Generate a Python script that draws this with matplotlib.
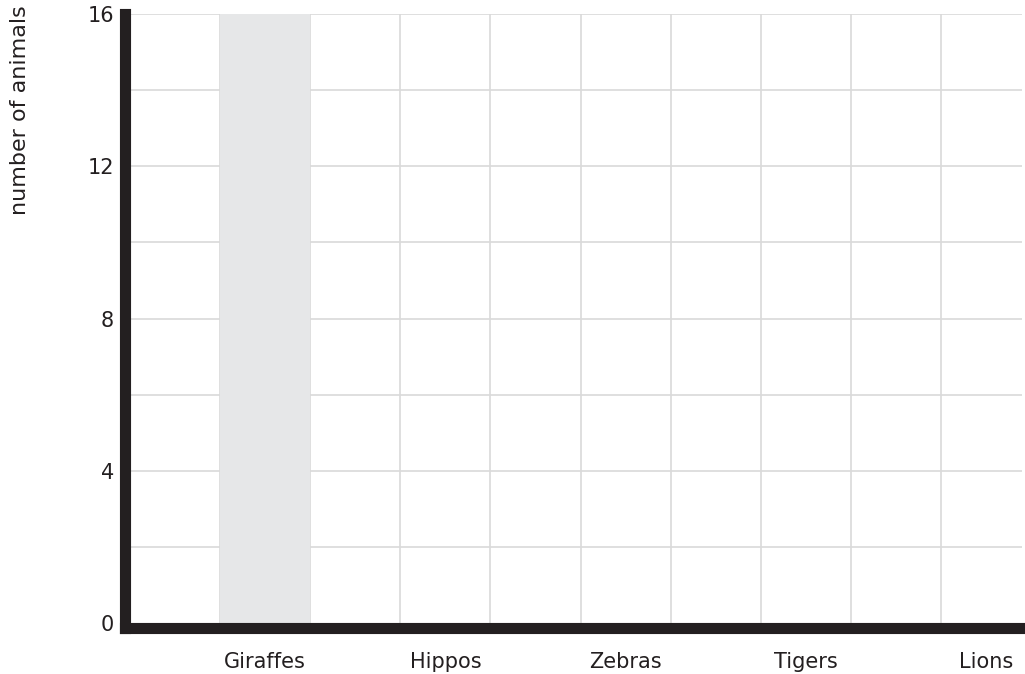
import matplotlib
matplotlib.use('Agg')
import matplotlib.pyplot as plt
import numpy as np

# Datos del grafico
categorias = ['Giraffes', 'Hippos', 'Zebras', 'Tigers', 'Lions']
valores = [16, 0, 0, 0, 0]
yticks = [0, 4, 8, 12, 16]

W, H = 1025, 674
fig = plt.figure(figsize=(W / 100, H / 100), dpi=100)
# ejes en pixeles: borde izquierdo en el centro del eje grueso
left_px, right_px, bottom_px, top_px = 125, 1022, 628, 14
ax = fig.add_axes([left_px / W, 1 - bottom_px / H,
                   (right_px - left_px) / W, (bottom_px - top_px) / H])

x = np.arange(len(categorias))
ax.bar(x, valores, width=0.5, color='#e6e7e8', zorder=1)

# rejilla
for gx in np.arange(-0.25, 4.3, 0.5):
    ax.axvline(gx, color='#d9d9d9', lw=1.2, zorder=0.5)
for gy in range(2, 17, 2):
    ax.axhline(gy, color='#d9d9d9', lw=1.2, zorder=0.5)

# 1 categoria = 180 px
ax.set_xlim(-0.75 - 5 / 180, 4.2)
ax.set_ylim(-5 * 16 / 609, 16)

ax.set_xticks(x)
ax.set_xticklabels(categorias, fontsize=15, color='#231f20')
ax.set_yticks(yticks)
ax.set_yticklabels([str(v) for v in yticks], fontsize=15, color='#231f20')
ax.tick_params(axis='both', length=0)
ax.tick_params(axis='x', pad=17)
ax.tick_params(axis='y', pad=8)

for s in ['top', 'right']:
    ax.spines[s].set_visible(False)
for s in ['left', 'bottom']:
    ax.spines[s].set_linewidth(8)
    ax.spines[s].set_color('#231f20')
    ax.spines[s].set_zorder(3)

fig.text(20 / W, 1 - 110 / H, 'number of animals', rotation=90,
         ha='center', va='center', fontsize=16, color='#231f20')

plt.savefig('out.png', dpi=100)
